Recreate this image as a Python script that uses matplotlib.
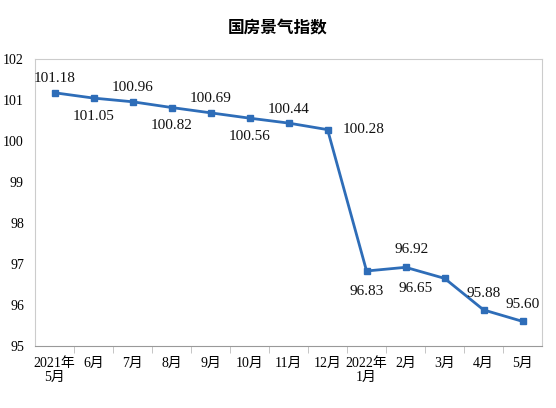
import numpy as np
import matplotlib
matplotlib.use('Agg')
import matplotlib.pyplot as plt

plt.rcParams['font.family'] = ['Liberation Serif', 'Noto Sans CJK SC']

months = ['2021年\n5月', '6月', '7月', '8月', '9月', '10月', '11月', '12月',
          '2022年\n1月', '2月', '3月', '4月', '5月']
values = [101.18, 101.05, 100.96, 100.82, 100.69, 100.56, 100.44, 100.28,
          96.83, 96.92, 96.65, 95.88, 95.60]
# 数值标签位置 (dx, dy) 单位: 像素点
label_pos = [(0, 10), (0, -13), (0, 10), (0, -13), (0, 10), (0, -13), (0, 10), (26, 0),
             (0, -15), (4, 13), (-21, -7), (0, 12), (0, 12)]

fig = plt.figure(figsize=(5.56, 4.08), dpi=100)
ax = fig.add_axes([0.063, 0.152, 0.912, 0.703])

x = np.arange(len(values))
ax.plot(x, values, color='#2E6DB8', lw=2.0, marker='s', ms=4.5, zorder=3)

for i, v in enumerate(values):
    dx, dy = label_pos[i]
    ax.annotate('%.2f' % v, (x[i], v), xytext=(dx, dy), textcoords='offset points',
                ha='center', va='center', fontsize=11, color='#111111')

ax.set_xlim(-0.5, len(values) - 0.5)
ax.set_ylim(95, 102)
ax.set_yticks(range(95, 103))
ax.tick_params(axis='y', length=0, labelsize=10, pad=8)
ax.set_xticks(x)
ax.set_xticklabels(months, fontsize=10, linespacing=1.1)
ax.tick_params(axis='x', length=0, pad=8)
ax.set_xticks(np.arange(0.5, len(values) - 1, 1), minor=True)
ax.tick_params(axis='x', which='minor', length=5, color='#bbbbbb', direction='out')

for s in ['top', 'right', 'left']:
    ax.spines[s].set_color('#cccccc')
    ax.spines[s].set_linewidth(0.8)
ax.spines['bottom'].set_color('#999999')
ax.spines['bottom'].set_linewidth(0.8)

fig.text(0.5, 0.93, '国房景气指数', ha='center', va='center', fontsize=12,
         fontweight='bold', family=['Noto Sans CJK SC'])

fig.savefig('out.png', dpi=100)
